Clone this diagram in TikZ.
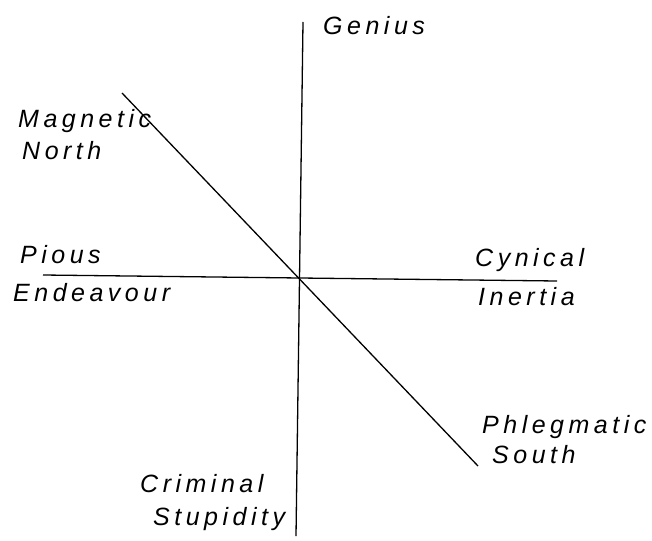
\documentclass[tikz,border=0pt]{standalone}
\usepackage{fontspec}
\setmainfont{Liberation Sans}[LetterSpace=18]
\begin{document}
\begin{tikzpicture}[x=1pt,y=-1pt,
  axis/.style={line width=1.3pt, black},
  lbl/.style={anchor=base west, inner sep=0pt, font=\fontsize{25}{27}\selectfont\itshape}]
\useasboundingbox (0,0) rectangle (652,540);
\coordinate (vtop) at (303,22);
\coordinate (vbot) at (296,536);
\coordinate (hl) at (43,275);
\coordinate (hr) at (557,281);
\coordinate (dtop) at (122,93);
\coordinate (dbot) at (478,466);
\draw[axis] (vtop) -- (vbot);
\draw[axis] (hl) -- (hr);
\draw[axis] (dtop) -- (dbot);
\node[lbl] (genius) at (323,35) {Genius};
\node[lbl] (magnetic) at (18,128) {Magnetic};
\node[lbl] (north) at (22,160) {North};
\node[lbl] (pious) at (20,263) {Pious};
\node[lbl] (endeavour) at (13,301) {Endeavour};
\node[lbl] (cynical) at (475,266) {Cynical};
\node[lbl] (inertia) at (478,305) {Inertia};
\node[lbl] (phleg) at (482,433) {Phlegmatic};
\node[lbl] (south) at (492,463) {South};
\node[lbl] (criminal) at (140,492) {Criminal};
\node[lbl] (stupidity) at (153,525) {Stupidity};
\end{tikzpicture}
\end{document}
